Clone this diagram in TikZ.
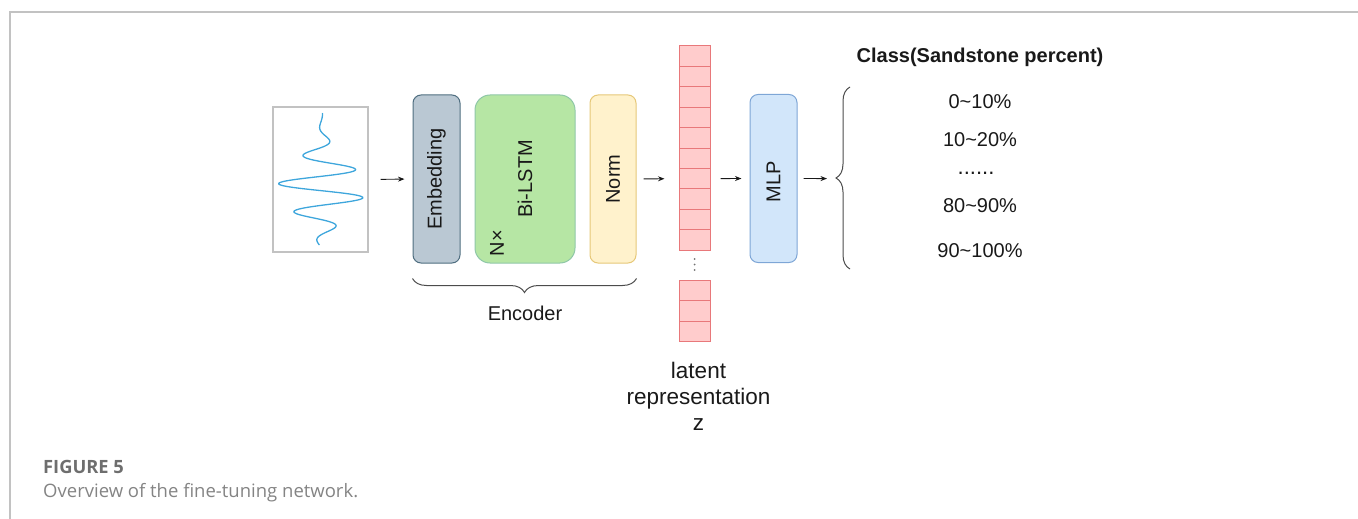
\documentclass[tikz,border=0pt]{standalone}
\usepackage{fontspec}
\setmainfont{Liberation Sans}
\newfontfamily\capfont{Open Sans}
\usetikzlibrary{arrows.meta,decorations.pathreplacing}
\definecolor{framegray}{HTML}{C2C2C2}
\definecolor{wave}{HTML}{3EA6DC}
\definecolor{embfill}{HTML}{BAC8D3}
\definecolor{embline}{HTML}{4F6E80}
\definecolor{lstmfill}{HTML}{B6E6A4}
\definecolor{lstmline}{HTML}{8FC7A8}
\definecolor{normfill}{HTML}{FFF2CC}
\definecolor{normline}{HTML}{E6C878}
\definecolor{mlpfill}{HTML}{D2E6FA}
\definecolor{mlpline}{HTML}{7EA6D6}
\definecolor{cellfill}{HTML}{FFCCCC}
\definecolor{cellline}{HTML}{E8787A}
\definecolor{capgray}{HTML}{6E6E6E}

\begin{document}
\begin{tikzpicture}[x=1pt,y=-1pt,
    blk/.style={line width=1pt,rounded corners=8pt,minimum width=47pt,minimum height=168pt,inner sep=0pt},
    cell/.style={draw=cellline,fill=cellfill,line width=1pt,minimum width=31pt,minimum height=20.4pt,inner sep=0pt},
    arr/.style={-{Stealth[length=6.5pt,width=5pt]},line width=0.9pt,black!90},
    brc/.style={draw=black!70,line width=1pt,decorate,decoration={brace,amplitude=14pt}},
    lbl/.style={font=\fontsize{20}{24}\selectfont,text=black!90,inner sep=0pt}]
    \useasboundingbox (0,0) rectangle (1358,519);
    \draw [framegray,line width=1.3pt] (10,519) -- (10,12) -- (1358,12);

    \node [draw=framegray,line width=1.2pt,minimum width=95pt,minimum height=145pt,inner sep=0pt] (sig) at (320.5,179.5) {};
    \draw [wave,line width=1.3pt] plot [domain=113:245,samples=200,variable=\t]
        ({322+44*exp(-((\t-188)/36)*((\t-188)/36))*cos(12.4138*(\t-198))},\t);

    \node [blk,draw=embline,fill=embfill] (emb) at (436.5,179) {};
    \node [blk,draw=lstmline,fill=lstmfill,minimum width=100pt,rounded corners=15pt] (lstm) at (525,179) {};
    \node [blk,draw=normline,fill=normfill,minimum width=46pt] (norm) at (613,179) {};
    \node [blk,draw=mlpline,fill=mlpfill] (mlp) at (773.5,178.5) {};
    \node [lbl,rotate=90] (embt) at (emb.center) {Embedding};
    \node [lbl,rotate=90] (lstmt) at (lstm.center) {Bi-LSTM};
    \node [lbl,rotate=90] (nx) at (497,243) {N×};
    \node [lbl,rotate=90] (normt) at (norm.center) {Norm};
    \node [lbl,rotate=90] (mlpt) at (773.5,182) {MLP};

    \foreach \i in {1,...,10}
        \node [cell] (c\i) at (694.5,{46+20.4*(\i-0.5)}) {};
    \foreach \i in {1,2,3}
        \node [cell] (d\i) at (694.5,{280+20.67*(\i-0.5)}) {};
    \foreach \k in {0,1,2}
        \fill [black!55] (694.5,{259+5.5*\k}) circle (1pt);

    \draw [arr,shorten <=12pt,shorten >=8pt] (sig.east) -- (emb.west);
    \draw [arr,shorten <=7pt,shorten >=14pt] (norm.east) -- (c7.west);
    \draw [arr,shorten <=10pt,shorten >=8pt] (c7.east) -- (mlp.west);
    \coordinate (brtip) at (836,178.6);
    \draw [arr,shorten <=6pt,shorten >=9pt] (mlp.east) -- (brtip);

    \draw [brc,decoration={mirror}] ([yshift=-15pt]emb.south west) -- ([yshift=-15pt]norm.south east);
    \node [lbl,anchor=base] (enc) at (525,320) {Encoder};
    \draw [brc] (850,269) -- (850,87);

    \node [lbl,font=\fontsize{22.5}{26}\selectfont,align=center,anchor=north] (lat) at (698.5,362) {latent\\representation\\z};

    \node [lbl,font=\fontsize{20}{24}\selectfont\bfseries] (cls) at (980,57) {Class(Sandstone percent)};
    \node [lbl] (k1) at (980,101.5) {0\textasciitilde10\%};
    \node [lbl] (k2) at (980,140) {10\textasciitilde20\%};
    \node [lbl,font=\fontsize{22}{24}\selectfont] (k3) at (976,173) {......};
    \node [lbl] (k4) at (980,205.5) {80\textasciitilde90\%};
    \node [lbl] (k5) at (980,250.5) {90\textasciitilde100\%};

    \node [anchor=base west,inner sep=0pt,text=capgray,font=\capfont\fontsize{18.3}{22}\selectfont\bfseries] (fig) at (43,473) {FIGURE 5};
    \node [anchor=base west,inner sep=0pt,text=capgray!85,font=\capfont\fontsize{18.5}{22}\selectfont] (cap) at (43,497) {Overview of the fine-tuning network.};
\end{tikzpicture}
\end{document}
